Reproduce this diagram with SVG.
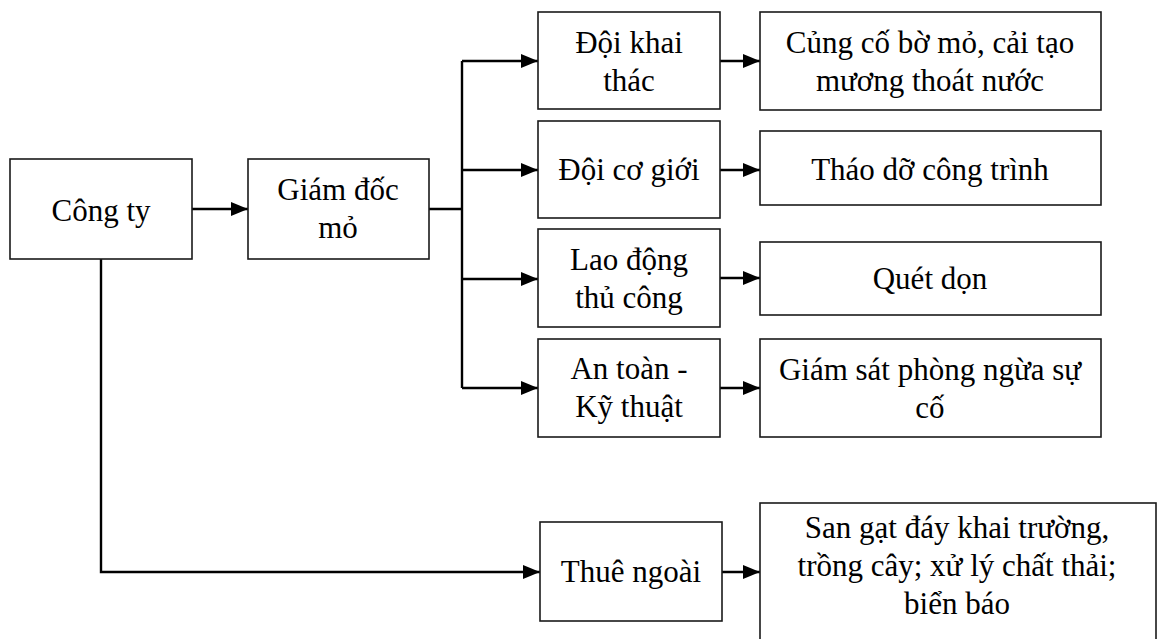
<svg xmlns="http://www.w3.org/2000/svg" width="1162" height="639" viewBox="0 0 1162 639">
<defs>
<marker id="ah" markerUnits="userSpaceOnUse" markerWidth="18" markerHeight="16" refX="17" refY="8" orient="auto">
<path d="M0,1 L17,8 L0,15 Z" fill="#000"/>
</marker>
</defs>
<rect width="1162" height="639" fill="#fff"/>
<g id="connectors" fill="none" stroke="#000" stroke-width="2.4">
<path d="M192,209 H248" marker-end="url(#ah)"/>
<path d="M429,209 H462"/>
<path d="M462,61 V388"/>
<path d="M462,61 H538" marker-end="url(#ah)"/>
<path d="M462,170 H538" marker-end="url(#ah)"/>
<path d="M462,279 H538" marker-end="url(#ah)"/>
<path d="M462,388 H538" marker-end="url(#ah)"/>
<path d="M720,61 H760" marker-end="url(#ah)"/>
<path d="M720,170 H760" marker-end="url(#ah)"/>
<path d="M720,278 H760" marker-end="url(#ah)"/>
<path d="M720,388 H760" marker-end="url(#ah)"/>
<path d="M101,259 V572 H540" marker-end="url(#ah)"/>
<path d="M722,572 H760" marker-end="url(#ah)"/>
</g>
<g id="cong-ty">
<rect x="10" y="159" width="182" height="100" fill="#fff" stroke="#1a1a1a" stroke-width="1.6"/>
<text font-family="Liberation Serif" font-size="31" text-anchor="middle" x="101" y="221">Công ty</text>
</g>
<g id="giam-doc-mo">
<rect x="248" y="159" width="181" height="100" fill="#fff" stroke="#1a1a1a" stroke-width="1.6"/>
<text font-family="Liberation Serif" font-size="31" text-anchor="middle" x="338" y="200">Giám đốc</text>
<text font-family="Liberation Serif" font-size="31" text-anchor="middle" x="338" y="238">mỏ</text>
</g>
<g id="doi-khai-thac">
<rect x="538" y="12" width="182" height="97" fill="#fff" stroke="#1a1a1a" stroke-width="1.6"/>
<text font-family="Liberation Serif" font-size="31" text-anchor="middle" x="629" y="53">Đội khai</text>
<text font-family="Liberation Serif" font-size="31" text-anchor="middle" x="629" y="91">thác</text>
</g>
<g id="doi-co-gioi">
<rect x="538" y="121" width="182" height="97" fill="#fff" stroke="#1a1a1a" stroke-width="1.6"/>
<text font-family="Liberation Serif" font-size="31" text-anchor="middle" x="629" y="180">Đội cơ giới</text>
</g>
<g id="lao-dong">
<rect x="538" y="229" width="182" height="98" fill="#fff" stroke="#1a1a1a" stroke-width="1.6"/>
<text font-family="Liberation Serif" font-size="31" text-anchor="middle" x="629" y="270">Lao động</text>
<text font-family="Liberation Serif" font-size="31" text-anchor="middle" x="629" y="308">thủ công</text>
</g>
<g id="an-toan">
<rect x="538" y="339" width="182" height="98" fill="#fff" stroke="#1a1a1a" stroke-width="1.6"/>
<text font-family="Liberation Serif" font-size="31" text-anchor="middle" x="629" y="379">An toàn -</text>
<text font-family="Liberation Serif" font-size="31" text-anchor="middle" x="629" y="417">Kỹ thuật</text>
</g>
<g id="thue-ngoai">
<rect x="540" y="522" width="182" height="99" fill="#fff" stroke="#1a1a1a" stroke-width="1.6"/>
<text font-family="Liberation Serif" font-size="31" text-anchor="middle" x="631" y="582">Thuê ngoài</text>
</g>
<g id="cung-co">
<rect x="760" y="12" width="341" height="98" fill="#fff" stroke="#1a1a1a" stroke-width="1.6"/>
<text font-family="Liberation Serif" font-size="31" text-anchor="middle" x="930" y="53">Củng cố bờ mỏ, cải tạo</text>
<text font-family="Liberation Serif" font-size="31" text-anchor="middle" x="930" y="91">mương thoát nước</text>
</g>
<g id="thao-do">
<rect x="760" y="131" width="341" height="74" fill="#fff" stroke="#1a1a1a" stroke-width="1.6"/>
<text font-family="Liberation Serif" font-size="31" text-anchor="middle" x="930" y="180">Tháo dỡ công trình</text>
</g>
<g id="quet-don">
<rect x="760" y="242" width="341" height="73" fill="#fff" stroke="#1a1a1a" stroke-width="1.6"/>
<text font-family="Liberation Serif" font-size="31" text-anchor="middle" x="930" y="289">Quét dọn</text>
</g>
<g id="giam-sat">
<rect x="760" y="339" width="341" height="98" fill="#fff" stroke="#1a1a1a" stroke-width="1.6"/>
<text font-family="Liberation Serif" font-size="31" text-anchor="middle" x="930" y="380">Giám sát phòng ngừa sự</text>
<text font-family="Liberation Serif" font-size="31" text-anchor="middle" x="930" y="418">cố</text>
</g>
<g id="san-gat">
<rect x="760" y="503" width="396" height="150" fill="#fff" stroke="#1a1a1a" stroke-width="1.6"/>
<text font-family="Liberation Serif" font-size="31" text-anchor="middle" x="957" y="538">San gạt đáy khai trường,</text>
<text font-family="Liberation Serif" font-size="31" text-anchor="middle" x="957" y="576">trồng cây; xử lý chất thải;</text>
<text font-family="Liberation Serif" font-size="31" text-anchor="middle" x="957" y="614">biển báo</text>
</g>
</svg>
